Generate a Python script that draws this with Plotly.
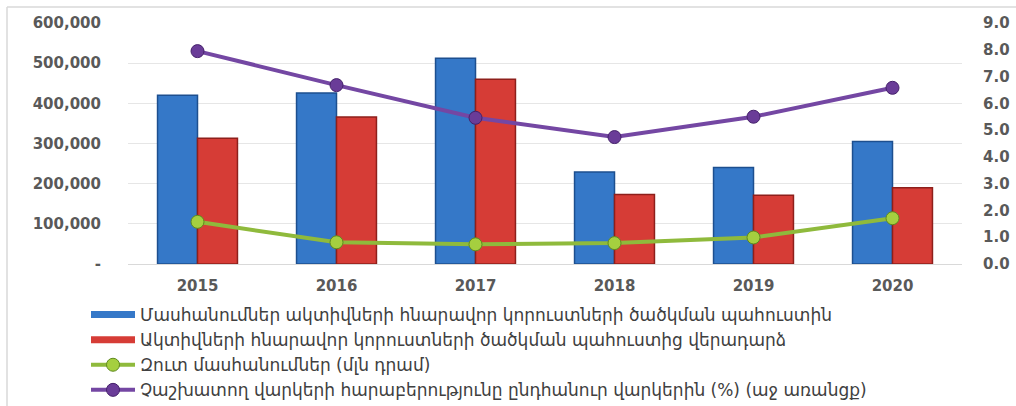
import plotly.graph_objects as go

years = ["2015", "2016", "2017", "2018", "2019", "2020"]
provisions = [420000, 426000, 512000, 229000, 240000, 305000]
recoveries = [313000, 366000, 460000, 173000, 171000, 190000]
net_provisions = [105000, 54000, 49000, 52000, 66000, 114000]
npl_ratio = [7.95, 6.68, 5.46, 4.74, 5.50, 6.58]

names = [
    "Մասհանումներ ակտիվների հնարավոր կորուստների ծածկման պահուստին",
    "Ակտիվների հնարավոր կորուստների ծածկման պահուստից վերադարձ",
    "Զուտ մասհանումներ (մլն դրամ)",
    "Չաշխատող վարկերի հարաբերությունը ընդհանուր վարկերին (%) (աջ առանցք)",
]

left_ticks = [0, 100000, 200000, 300000, 400000, 500000, 600000]
left_labels = ["-", "100,000", "200,000", "300,000", "400,000", "500,000", "600,000"]
right_ticks = [0, 1, 2, 3, 4, 5, 6, 7, 8, 9]
right_labels = ["0.0", "1.0", "2.0", "3.0", "4.0", "5.0", "6.0", "7.0", "8.0", "9.0"]

BLUE, BLUE_EDGE = "#3578c8", "#1d4f8f"
RED, RED_EDGE = "#d63c36", "#8e1f1b"

fig = go.Figure()
fig.add_trace(go.Bar(
    x=years, y=provisions, name=names[0], legendgroup="a", showlegend=False,
    marker=dict(color=BLUE, line=dict(color=BLUE_EDGE, width=1.5)),
))
fig.add_trace(go.Bar(
    x=years, y=recoveries, name=names[1], legendgroup="b", showlegend=False,
    marker=dict(color=RED, line=dict(color=RED_EDGE, width=1.5)),
))
# legend-only entries that draw the wide bar swatches of the reference
fig.add_trace(go.Scatter(
    x=[None], y=[None], name=names[0], legendgroup="a", mode="lines",
    line=dict(color=BLUE, width=7),
))
fig.add_trace(go.Scatter(
    x=[None], y=[None], name=names[1], legendgroup="b", mode="lines",
    line=dict(color=RED, width=7),
))
fig.add_trace(go.Scatter(
    x=years, y=net_provisions, name=names[2], mode="lines+markers", legendgroup="c",
    line=dict(color="#8fba3c", width=4),
    marker=dict(color="#a5cf3f", size=13, line=dict(color="#5f8a1e", width=1)),
))
fig.add_trace(go.Scatter(
    x=years, y=npl_ratio, name=names[3], mode="lines+markers", yaxis="y2", legendgroup="d",
    line=dict(color="#7447a3", width=4),
    marker=dict(color="#6a3c98", size=13, line=dict(color="#45216b", width=1)),
))

tickfont = dict(family="DejaVu Sans", size=15, color="#595959", weight="bold")

fig.update_layout(
    width=1016, height=406,
    margin=dict(l=128, r=54, t=23, b=142, autoexpand=False),
    paper_bgcolor="white", plot_bgcolor="white",
    barmode="group", bargap=0.425, bargroupgap=0,
    xaxis=dict(
        type="category", tickfont=tickfont, showgrid=False,
        showline=True, linecolor="#d9d9d9", linewidth=1, ticks="", ticklabelstandoff=8,
    ),
    yaxis=dict(
        range=[0, 600000], tickvals=left_ticks, ticktext=left_labels,
        tickfont=tickfont, showgrid=True, gridcolor="#e6e6e6", gridwidth=1,
        zeroline=False, ticks="", ticklabelstandoff=26,
    ),
    yaxis2=dict(
        range=[0, 9], tickvals=right_ticks, ticktext=right_labels,
        tickfont=tickfont, overlaying="y", side="right", showgrid=False,
        zeroline=False, ticks="", ticklabelstandoff=20,
    ),
    legend=dict(
        xref="container", yref="container",
        x=86 / 1016, xanchor="left", y=1 - 297 / 406, yanchor="top",
        orientation="v", traceorder="grouped", tracegroupgap=0,
        font=dict(family="DejaVu Sans", size=17, color="#404040"),
        itemwidth=44, bgcolor="rgba(0,0,0,0)",
    ),
    shapes=[
        dict(type="line", xref="paper", yref="paper",
             x0=(7 - 128) / 834, x1=(1016 - 128) / 834,
             y0=(264 - 7) / 241, y1=(264 - 7) / 241,
             line=dict(color="#d9d9d9", width=1.5)),
        dict(type="line", xref="paper", yref="paper",
             x0=(7 - 128) / 834, x1=(7 - 128) / 834,
             y0=(264 - 7) / 241, y1=(264 - 406) / 241,
             line=dict(color="#d9d9d9", width=1.5)),
    ],
)

fig.write_html("out.html")
